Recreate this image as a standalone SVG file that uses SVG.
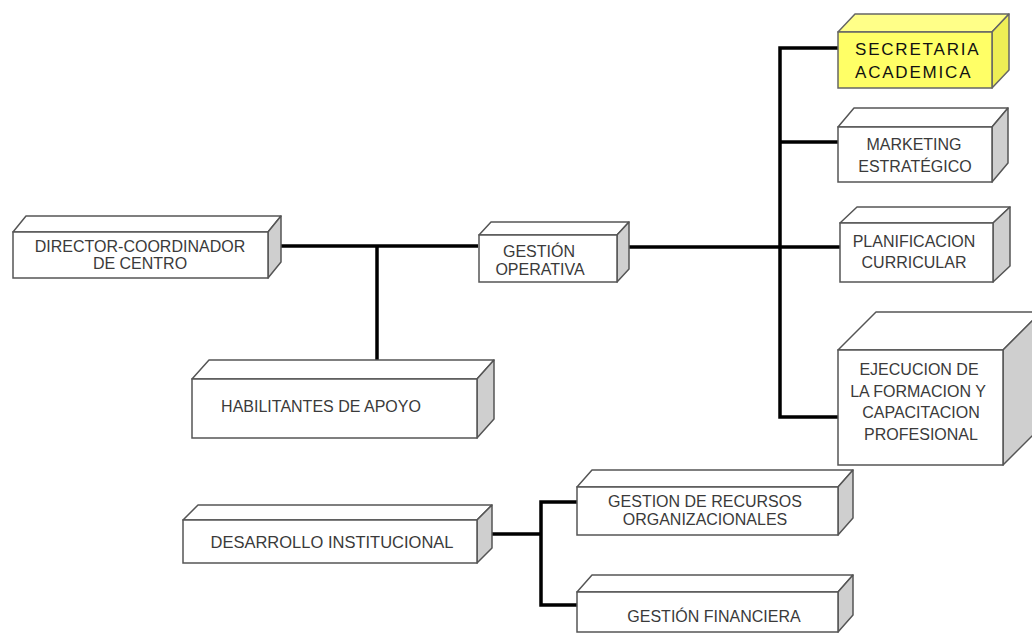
<svg xmlns="http://www.w3.org/2000/svg" width="1032" height="635" viewBox="0 0 1032 635">
<style>
.top{fill:#ffffff;stroke:#555;stroke-width:1.5;stroke-linejoin:round}
.side{fill:#cfcfcf;stroke:#555;stroke-width:1.5;stroke-linejoin:round}
.front{fill:#ffffff;stroke:#555;stroke-width:1.5}
.ytop{fill:#ffff88;stroke:#666;stroke-width:1.5;stroke-linejoin:round}
.yside{fill:#eeee55;stroke:#666;stroke-width:1.5;stroke-linejoin:round}
.yfront{fill:#ffff66;stroke:#666;stroke-width:1.5}
text{font-family:"Liberation Sans",Arial,sans-serif;font-size:16px;fill:#3a3a3a;text-anchor:middle}
.sec{fill:#111;text-anchor:start;font-size:17px;letter-spacing:1.8px}
.conn{fill:none;stroke:#000;stroke-width:3.5}
</style>
<rect width="1032" height="635" fill="#ffffff"/>
<g id="connectors">
<path class="conn" d="M280 246 H478"/>
<path class="conn" d="M377 246 V361"/>
<path class="conn" d="M620 247 H840"/>
<path class="conn" d="M838 48 H780 V417 H838"/>
<path class="conn" d="M780 142 H838"/>
<path class="conn" d="M492 534 H541"/>
<path class="conn" d="M577 502 H541 V605 H577"/>
</g>
<g id="director">
<polygon class="top" points="13,232 26,216 281,216 268,232"/>
<polygon class="side" points="268,232 281,216 281,262 268,278"/>
<rect class="front" x="13" y="232" width="255" height="46"/>
<text x="140" y="252">DIRECTOR-COORDINADOR</text>
<text x="140" y="269">DE CENTRO</text>
</g>
<g id="habilitantes">
<polygon class="top" points="192,379 209,360 494,360 477,379"/>
<polygon class="side" points="477,379 494,360 494,419 477,438"/>
<rect class="front" x="192" y="379" width="285" height="59"/>
<text x="321" y="412">HABILITANTES DE APOYO</text>
</g>
<g id="gestion-operativa">
<polygon class="top" points="479,235 491,222 629,222 617,235"/>
<polygon class="side" points="617,235 629,222 629,269 617,282"/>
<rect class="front" x="479" y="235" width="138" height="47"/>
<text x="539" y="257">GESTIÓN</text>
<text x="540" y="275">OPERATIVA</text>
</g>
<g id="secretaria">
<polygon class="ytop" points="838,32 855,14 1009,14 992,32"/>
<polygon class="yside" points="992,32 1009,14 1009,70 992,88"/>
<rect class="yfront" x="838" y="32" width="154" height="56"/>
<text class="sec" x="855" y="55">SECRETARIA</text>
<text class="sec" x="855" y="78">ACADEMICA</text>
</g>
<g id="marketing">
<polygon class="top" points="838,127 854,108 1008,108 992,127"/>
<polygon class="side" points="992,127 1008,108 1008,163 992,182"/>
<rect class="front" x="838" y="127" width="154" height="55"/>
<text x="914" y="150">MARKETING</text>
<text x="915" y="172">ESTRATÉGICO</text>
</g>
<g id="planificacion">
<polygon class="top" points="840,223 857,207 1010,207 993,223"/>
<polygon class="side" points="993,223 1010,207 1010,266 993,282"/>
<rect class="front" x="840" y="223" width="153" height="59"/>
<text x="914" y="247">PLANIFICACION</text>
<text x="914" y="268">CURRICULAR</text>
</g>
<g id="ejecucion">
<polygon class="top" points="838,350 876,312 1041,312 1003,350"/>
<polygon class="side" points="1003,350 1041,312 1041,427 1003,465"/>
<rect class="front" x="838" y="350" width="165" height="115"/>
<text x="919" y="375">EJECUCION DE</text>
<text x="918" y="397">LA FORMACION Y</text>
<text x="921" y="418">CAPACITACION</text>
<text x="921" y="440">PROFESIONAL</text>
</g>
<g id="desarrollo">
<polygon class="top" points="183,520 198,505 492,505 477,520"/>
<polygon class="side" points="477,520 492,505 492,548 477,563"/>
<rect class="front" x="183" y="520" width="294" height="43"/>
<text x="332" y="548" style="font-size:16.5px">DESARROLLO INSTITUCIONAL</text>
</g>
<g id="gestion-recursos">
<polygon class="top" points="577,487 592,470 853,470 838,487"/>
<polygon class="side" points="838,487 853,470 853,518 838,535"/>
<rect class="front" x="577" y="487" width="261" height="48"/>
<text x="705" y="507">GESTION DE RECURSOS</text>
<text x="705" y="525">ORGANIZACIONALES</text>
</g>
<g id="gestion-financiera">
<polygon class="top" points="577,592 592,575 853,575 838,592"/>
<polygon class="side" points="838,592 853,575 853,615 838,632"/>
<rect class="front" x="577" y="592" width="261" height="40"/>
<text x="714" y="622">GESTIÓN FINANCIERA</text>
</g>
</svg>
